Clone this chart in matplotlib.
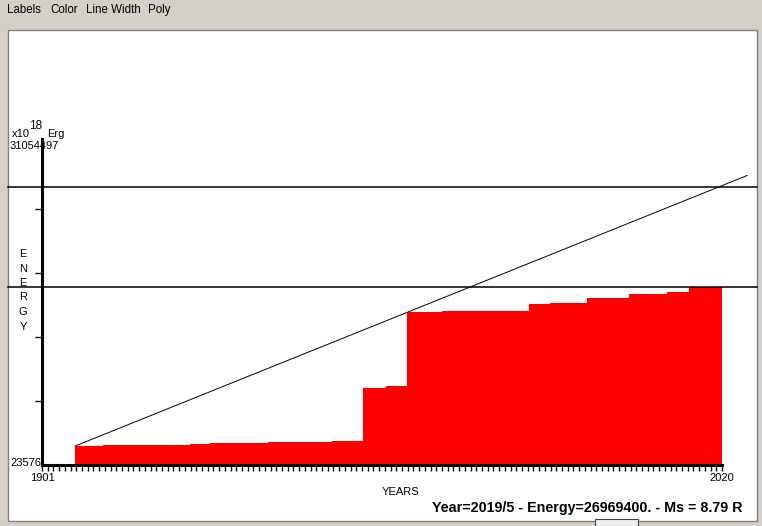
import matplotlib
matplotlib.use('Agg')
import matplotlib.pyplot as plt
from matplotlib.patches import Rectangle

# Data
y_min = 23576
y_max = 31054497
x_start = 1901
x_end = 2020

# step edges (years) and cumulative energy level of each step
step_years = [1906.8, 1911.7, 1926.9, 1930.4, 1940.5, 1951.8, 1957.2, 1961.2,
              1964.9, 1971.0, 1986.2, 1989.9, 1996.4, 2003.7, 2010.4, 2014.2, 2020.0]
step_values = [1866000, 1963000, 2060000, 2157000, 2283000, 2380000, 7490000, 7684000,
               14860000, 14957000, 15636000, 15733000, 16247000, 16606000, 16799000, 17330000]

# trend line and reference levels
trend_years = [1906.8, 2024.4]
trend_values = [1866000, 28097000]
current_level = 17330000
projected_level = 26969400

status = 'Year=2019/5 - Energy=26969400. - Ms = 8.79 R'
menu_items = ['Labels', 'Color', 'Line Width', 'Poly']
menu_x = [7, 50, 86, 148]

W, H = 762, 526
grey = '#D4D0C8'
font = 'Liberation Sans'


def fx(px):
    return px / W


def fy(py):
    return 1 - py / H


fig = plt.figure(figsize=(W / 100, H / 100), dpi=100, facecolor=grey)

# white drawing panel
fig.patches.append(Rectangle((fx(8), fy(521)), fx(757) - fx(8), fy(30) - fy(521),
                             transform=fig.transFigure, facecolor='white',
                             edgecolor='#808080', lw=1, zorder=-2))
# small button at bottom
fig.patches.append(Rectangle((fx(595), fy(526)), fx(638) - fx(595), fy(519) - fy(526),
                             transform=fig.transFigure, facecolor='#F0F0F0',
                             edgecolor='#404040', lw=0.8, zorder=-1))

# menu bar
for label, mx in zip(menu_items, menu_x):
    fig.text(fx(mx), fy(10), label, fontsize=8.3, family=font, va='center', ha='left')

ax = fig.add_axes([fx(42), fy(465), fx(722) - fx(42), fy(145) - fy(465)])
ax.set_zorder(2)
ax.set_facecolor('none')
ax.set_xlim(x_start, x_end)
ax.set_ylim(y_min, y_max)

# red cumulative steps
ax.fill_between(step_years, step_values + [step_values[-1]], y_min, step='post',
                color='#FF0000', lw=0, zorder=2)

# trend line
ax.plot(trend_years, trend_values, color='black', lw=0.7, clip_on=False, zorder=3)

# reference lines across the panel
for lvl in [current_level, projected_level]:
    ax.axhline(lvl, xmin=(8 - 42) / 680, xmax=(757 - 42) / 680, color='black',
               lw=1.1, clip_on=False, zorder=3)

for s in ['top', 'right']:
    ax.spines[s].set_visible(False)
ax.spines['left'].set_linewidth(2.2)
ax.spines['bottom'].set_linewidth(2.2)
ax.spines['left'].set_bounds(y_min, y_max + (y_max - y_min) * 0.02)
ax.spines['left'].set_zorder(4)
ax.spines['bottom'].set_zorder(4)

# axis ticks
yt = [y_min + k * (y_max - y_min) / 5 for k in range(1, 5)]
ax.set_yticks(yt)
ax.set_yticklabels([])
ax.tick_params(axis='y', direction='out', length=5, width=1)
ax.set_xticks([x_start, x_end])
ax.set_xticklabels([str(x_start), str(x_end)], fontsize=8, family=font)
ax.set_xticks(list(range(x_start, x_end + 1)), minor=True)
ax.tick_params(axis='x', which='both', direction='out', length=4, width=1, pad=2)

# texts
fig.text(fx(12), fy(134), 'x10', fontsize=8, family=font, va='center', ha='left')
fig.text(fx(29), fy(126), '18', fontsize=8.5, family=font, va='center', ha='left')
fig.text(fx(47), fy(134), 'Erg', fontsize=8, family=font, va='center', ha='left')
fig.text(fx(10), fy(146), '31054497', fontsize=8, family=font, va='center', ha='left')
fig.text(fx(10), fy(463), '23576', fontsize=8, family=font, va='center', ha='left')
for i, ch in enumerate('ENERGY'):
    fig.text(fx(23), fy(254 + i * 14.5), ch, fontsize=8, family=font, va='center', ha='center')
fig.text(fx(400), fy(492), 'YEARS', fontsize=8, family=font, va='center', ha='center')
fig.text(fx(742), fy(508), status, fontsize=10.3, family=font, weight='bold',
         va='center', ha='right')

fig.savefig('out.png', dpi=100, facecolor=grey)
